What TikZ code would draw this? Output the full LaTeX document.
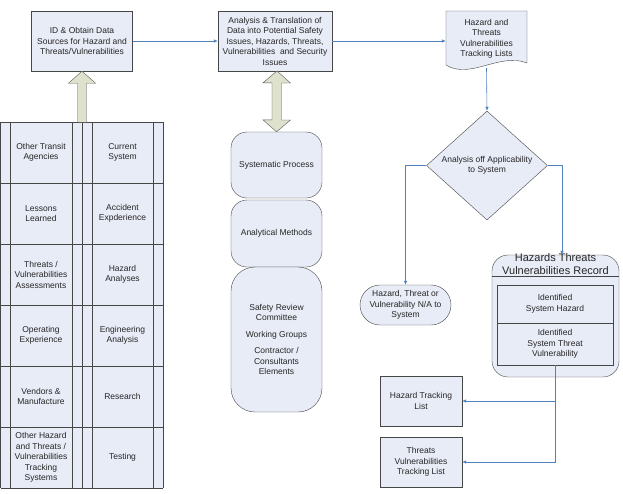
\documentclass[tikz,border=0pt]{standalone}
\usepackage{fontspec}
\setmainfont{Liberation Sans}
\usetikzlibrary{shapes.geometric,arrows.meta,positioning}

\definecolor{boxfill}{RGB}{232,236,247}
\definecolor{edge}{RGB}{70,70,70}
\definecolor{flow}{RGB}{79,129,189}
\definecolor{bigarrow}{RGB}{222,225,203}

\tikzset{
  lbl/.style={font=\fontsize{8.5}{10.5}\selectfont, align=center, text=black!85},
  box/.style={lbl, draw=edge, fill=boxfill, inner sep=1pt},
  pill/.style={box, rounded corners=16pt},
  conn/.style={draw=flow, semithick, -{Latex[length=4pt,width=3.5pt]}},
  blockarrow/.style={draw=gray!70!black, fill=bigarrow},
}

\begin{document}
\begin{tikzpicture}[x=1pt, y=-1pt]
    \useasboundingbox[fill=white] (0,0) rectangle (623,493);

    % 1. Top row
    \node[box, minimum width=101pt, minimum height=60pt] (id) at (82,41)
        {ID \& Obtain Data\\Sources for Hazard and\\Threats/Vulnerabilities};
    \node[box, minimum width=114pt, minimum height=60pt] (ana) at (275,41)
        {Analysis \& Translation of\\Data into Potential Safety\\Issues, Hazards, Threats,\\Vulnerabilities\ \ and Security\\Issues};
    % tracking lists (document shape)
    \draw[edge, fill=boxfill] (446,11) -- (527,11) -- (527,63)
        .. controls (500,52) and (470,80) .. (446,65) -- cycle;
    \node[lbl, inner sep=1pt, minimum width=81pt, minimum height=55pt, anchor=north] (trk) at (486.5,11)
        {Hazard and\\Threats\\Vulnerabilities\\Tracking Lists};

    \draw[conn] (id.east) -- (ana.west);
    \draw[conn] (ana.east) -- (ana.east -| trk.west);

    % 2. Source table
    \fill[boxfill] (0.5,122) rectangle (163,488);
    \foreach \x in {0.5,10,72,82,92,153,163}
        \draw[edge] (\x,122) -- (\x,488);
    \foreach \r in {0,...,6}
        \draw[edge] (0.5,122+61*\r) -- (163,122+61*\r);
    \foreach \lt/\rt [count=\i] in {%
        {Other Transit\\Agencies}/{Current\\System},
        {Lessons\\Learned}/{Accident\\Expderience},
        {Threats /\\Vulnerabilities\\Assessments}/{Hazard\\Analyses},
        {Operating\\Experience}/{Engineering\\Analysis},
        {Vendors \&\\Manufacture}/{Research},
        {Other Hazard\\and Threats /\\Vulnerabilities\\Tracking\\Systems}/{Testing}}
    {
        \node[lbl] (src-\i) at (41,91.5+61*\i) {\lt};
        \node[lbl] (own-\i) at (122.5,91.5+61*\i) {\rt};
    }

    % block arrow up into the first box
    \draw[blockarrow] (id.south) -- ++(13.5,12) -- ++(-9,0) -- ++(0,39)
        -- ++(-9,0) -- ++(0,-39) -- ++(-9,0) -- cycle;

    % 3. Middle stack
    \node[pill, minimum width=91pt, minimum height=66pt] (sp) at (276.5,165) {Systematic Process};
    \node[pill, minimum width=91pt, minimum height=67pt] (am) at (276.5,233.5) {Analytical Methods};
    \node[pill, rounded corners=24pt, minimum width=91pt, minimum height=145pt] (org) at (276.5,339.5)
        {Safety Review\\Committee\\[6pt]Working Groups\\[6pt]Contractor /\\Consultants\\Elements};

    % double block arrow
    \draw[blockarrow] (277,71) -- ++(13.5,12) -- ++(-9,0) -- ++(0,37) -- ++(9,0)
        -- (sp.north) -- ++(-13.5,-12) -- ++(9,0) -- ++(0,-37) -- ++(-9,0) -- cycle;

    % 4. Decision
    \node[box, diamond, inner sep=0pt, minimum width=121pt, minimum height=85pt] (app) at (487,165.5)
        {Analysis off Applicability\\to System};
    \draw[conn] (486.5,68) -- (app.north);

    \node[box, rounded corners=20pt, minimum width=91pt, minimum height=40pt] (na) at (405.5,305)
        {Hazard, Threat or\\Vulnerability N/A to\\System};
    \draw[conn] (app.west) -| (na.north);

    % 5. Record
    \node[box, rounded corners=16pt, minimum width=127pt, minimum height=122pt] (rec) at (555.5,316) {};
    \node[lbl, font=\fontsize{11}{13}\selectfont] (rec-title) at (555.5,264.5)
        {Hazards Threats\\Vulnerabilities Record};
    \draw[edge] (rec.west |- 0,276) -- (rec.east |- 0,276);
    \node[box, minimum width=116pt, minimum height=38pt] (haz) at (555,304)
        {Identified\\System Hazard};
    \node[box, minimum width=116pt, minimum height=42pt] (vul) at (555,344)
        {Identified\\System Threat\\Vulnerability};
    \draw[conn] (app.east) -| ([xshift=6.5pt]rec.north);

    % 6. Tracking lists
    \node[box, minimum width=82pt, minimum height=50pt] (htl) at (421,401)
        {Hazard Tracking\\List};
    \node[box, minimum width=82pt, minimum height=50pt] (tvl) at (421,462)
        {Threats\\Vulnerabilities\\Tracking List};
    \draw[conn] (vul.south) |- (htl.east);
    \draw[conn] (vul.south) |- (tvl.east);
\end{tikzpicture}
\end{document}
